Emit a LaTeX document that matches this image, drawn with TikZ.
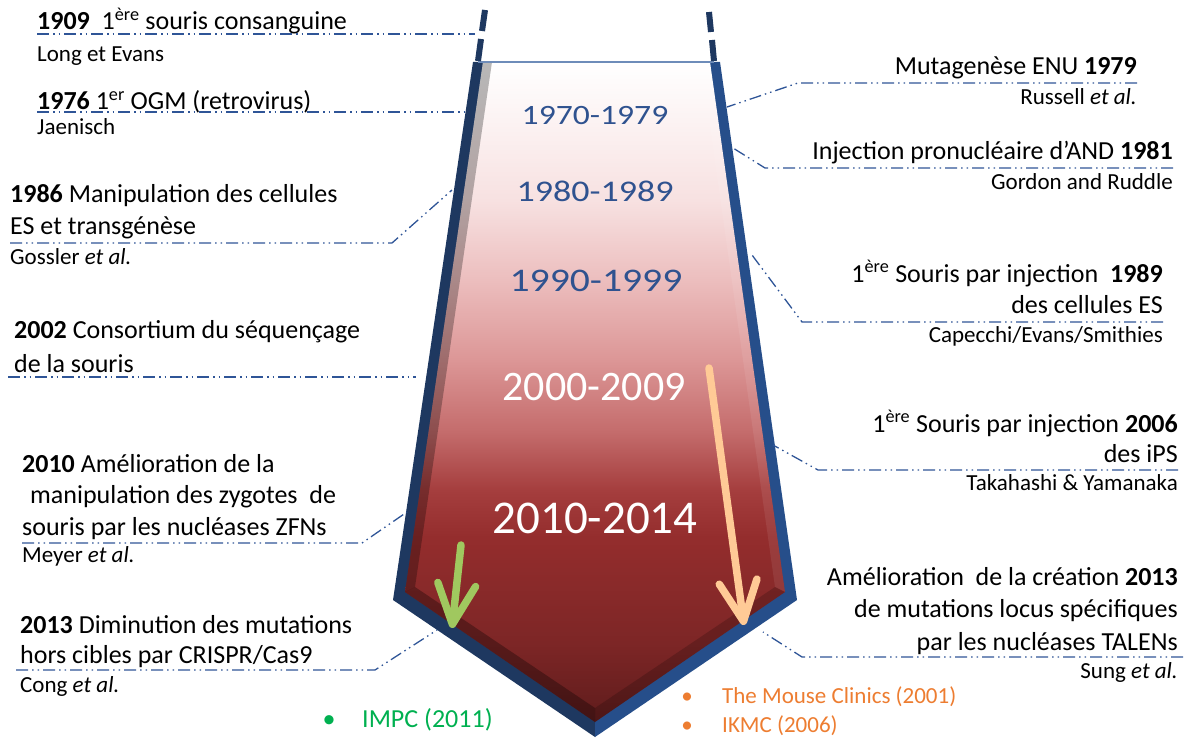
\documentclass[tikz,border=0pt]{standalone}
\usepackage{fontspec}
\setmainfont{Carlito}
\usetikzlibrary{arrows.meta,positioning,calc}

\definecolor{navyband}{RGB}{30,56,96}
\definecolor{blueband}{RGB}{38,78,138}
\definecolor{rimblue}{RGB}{110,140,185}
\definecolor{leadblue}{RGB}{47,85,151}
\definecolor{decblue}{RGB}{47,82,143}
\definecolor{applegreen}{RGB}{160,200,95}
\definecolor{peach}{RGB}{255,202,150}
\definecolor{impcgreen}{RGB}{0,176,80}
\definecolor{clinorange}{RGB}{237,125,49}
% funnel gradient, bottom to top
\definecolor{fa}{RGB}{95,28,28}
\definecolor{fb}{RGB}{125,38,38}
\definecolor{fc}{RGB}{148,45,45}
\definecolor{fd}{RGB}{165,62,62}
\definecolor{fe}{RGB}{196,108,108}
\definecolor{ff}{RGB}{220,150,150}
\definecolor{fg}{RGB}{236,190,190}
\definecolor{fh}{RGB}{247,225,225}
\definecolor{fi}{RGB}{252,243,243}
\definecolor{fj}{RGB}{255,255,255}
\pgfdeclareverticalshading{funnelfill}{100bp}{color(0bp)=(fa); color(25bp)=(fa);
  color(31bp)=(fb); color(39bp)=(fc); color(42.6bp)=(fd); color(47bp)=(fe);
  color(52.4bp)=(ff); color(58.5bp)=(fg); color(64.5bp)=(fh); color(70.6bp)=(fi);
  color(75bp)=(fj); color(100bp)=(fj)}

\tikzset{
  evt/.style={font=\fontsize{26}{31}\selectfont, inner sep=0pt},
  cite/.style={font=\fontsize{23}{27}\selectfont, inner sep=0pt},
  leader/.style={leadblue, line width=1.3pt, dash pattern=on 12pt off 4pt on 1.5pt off 4pt on 1.5pt off 4pt},
  decade/.style={inner sep=0pt, anchor=base},
  pointer/.style={line width=7.5pt, line cap=round, -{Straight Barb[length=40pt,width=38pt,round]}},
}

\begin{document}
\begin{tikzpicture}[x=1pt,y=-1pt]
\useasboundingbox (0,0) rectangle (1186,738);

%walls
\fill[navyband] (473,62) -- (393,600) -- (595,737) -- (595,62) -- cycle;
\fill[blueband] (720,62) -- (797,600) -- (595,737) -- (595,62) -- cycle;
\shade[shading=funnelfill] (483,62) -- (405,592) -- (595,722) -- (785,592) -- (710,62) -- cycle;

%bevel
\fill[black, opacity=0.28] (483,62) -- (405,592) -- (415,587) -- (492,62) -- cycle;
\fill[black, opacity=0.3] (405,592) -- (595,722) -- (595,708) -- (415,587) -- cycle;
\fill[black, opacity=0.18] (595,722) -- (785,592) -- (775,587) -- (595,708) -- cycle;
\fill[white, opacity=0.08] (710,62) -- (785,592) -- (775,587) -- (701,62) -- cycle;

%rim
\draw[rimblue, line width=2pt] (478,62) -- (714,62);
\draw[navyband, line width=6pt] (485,10) -- (482,31) (481,39) -- (478,61);
\draw[navyband, line width=6pt] (709,12) -- (711,32) (712,40) -- (714,61);

%decades
\node[decade, text=decblue, font=\fontsize{28}{30}\selectfont, xscale=1.2] (d70) at (595,125) {1970-1979};
\node[decade, text=decblue, font=\fontsize{30}{32}\selectfont, xscale=1.2] (d80) at (595,202) {1980-1989};
\node[decade, text=decblue, font=\fontsize{33}{35}\selectfont, xscale=1.2] (d90) at (596,291) {1990-1999};
\node[decade, text=white, font=\fontsize{42}{44}\selectfont] (d00) at (594,400) {2000-2009};
\node[decade, text=white, font=\fontsize{47}{49}\selectfont] (d10) at (595,533) {2010-2014};

%arrows
\coordinate (gtop) at (461,545);
\coordinate (gtip) at (452,628);
\draw[pointer, applegreen] (gtop) -- (gtip);
\coordinate (ptop) at (709,368);
\coordinate (ptip) at (744,625);
\draw[pointer, peach] (ptop) -- (ptip);

%1909
\node[evt, anchor=base west] (l1a) at (37,30) {\textbf{1909}\ \ 1\textsuperscript{ère} souris consanguine};
\node[cite, anchor=base west] (l1c) at (37,62) {Long et Evans};
\coordinate (k1) at (475,34);
\draw[leader] (l1a.west |- k1) -- (k1);

%1976
\node[evt, anchor=base west] (l2a) at (37,110) {\textbf{1976} 1\textsuperscript{er} OGM (retrovirus)};
\node[cite, anchor=base west] (l2c) at (37,135) {Jaenisch};
\coordinate (k2) at (465,112);
\draw[leader] (l2a.west |- k2) -- (k2);

%1986
\node[evt, anchor=base west] (l3a) at (10,203) {\textbf{1986} Manipulation des cellules};
\node[evt, anchor=base west] (l3b) at (10,235) {ES et transgénèse};
\node[cite, anchor=base west] (l3c) at (10,265) {Gossler \textit{et al.}};
\coordinate (b3) at (392,243);
\coordinate (k3) at (452,190);
\draw[leader] (l3b.west |- b3) -- (b3) -- (k3);

%2002
\node[evt, anchor=base west] (l4a) at (14,338) {\textbf{2002} Consortium du séquençage};
\node[evt, anchor=base west] (l4b) at (14,372) {de la souris};
\coordinate (k4) at (416,377);
\draw[leader] ([xshift=-6pt]l4b.west |- k4) -- (k4);

%2010
\node[evt, anchor=base west] (l5a) at (22,472) {\textbf{2010} Amélioration de la};
\node[evt, anchor=base west] (l5b) at (30,503) {manipulation des zygotes\ \ de};
\node[evt, anchor=base west] (l5c) at (22,535) {souris par les nucléases ZFNs};
\node[cite, anchor=base west] (l5d) at (22,562) {Meyer \textit{et al.}};
\coordinate (b5) at (362,543);
\coordinate (k5) at (407,512);
\draw[leader] (l5c.west |- b5) -- (b5) -- (k5);

%2013 CRISPR
\node[evt, anchor=base west] (l6a) at (20,633) {\textbf{2013} Diminution des mutations};
\node[evt, anchor=base west] (l6b) at (20,663) {hors cibles par CRISPR/Cas9};
\node[cite, anchor=base west] (l6c) at (20,692) {Cong \textit{et al.}};
\coordinate (b6) at (375,670);
\coordinate (k6) at (437,630);
\draw[leader] ([xshift=-4pt]l6b.west |- b6) -- (b6) -- (k6);

%1979
\node[evt, anchor=base east] (r1a) at (1137,75) {Mutagenèse ENU \textbf{1979}};
\node[cite, anchor=base east] (r1c) at (1137,105) {Russell \textit{et al.}};
\coordinate (b7) at (798,83);
\coordinate (k7) at (727,107);
\draw[leader] (r1a.east |- b7) -- (b7) -- (k7);

%1981
\node[evt, anchor=base east] (r2a) at (1173,160) {Injection pronucléaire d’AND \textbf{1981}};
\node[cite, anchor=base east] (r2c) at (1173,190) {Gordon and Ruddle};
\coordinate (b8) at (765,168);
\coordinate (k8) at (733,148);
\draw[leader] (r2a.east |- b8) -- (b8) -- (k8);

%1989
\node[evt, anchor=base east] (r3a) at (1163,282) {1\textsuperscript{ère} Souris par injection\ \ \textbf{1989}};
\node[evt, anchor=base east] (r3b) at (1163,313) {des cellules ES};
\node[cite, anchor=base east] (r3c) at (1163,342) {Capecchi/Evans/Smithies};
\coordinate (b9) at (802,322);
\coordinate (k9) at (752,255);
\draw[leader] (r3b.east |- b9) -- (b9) -- (k9);

%2006
\node[evt, anchor=base east] (r4a) at (1178,432) {1\textsuperscript{ère} Souris par injection \textbf{2006}};
\node[evt, anchor=base east] (r4b) at (1178,462) {des iPS};
\node[cite, anchor=base east] (r4c) at (1178,490) {Takahashi \& Yamanaka};
\coordinate (b10) at (818,470);
\coordinate (k10) at (773,445);
\draw[leader] (r4b.east |- b10) -- (b10) -- (k10);

%2013 TALEN
\node[evt, anchor=base east] (r5a) at (1178,585) {Amélioration\ \ de la création \textbf{2013}};
\node[evt, anchor=base east] (r5b) at (1178,617) {de mutations locus spécifiques};
\node[evt, anchor=base east] (r5c) at (1178,650) {par les nucléases TALENs};
\node[cite, anchor=base east] (r5d) at (1178,678) {Sung \textit{et al.}};
\coordinate (b11) at (802,657);
\coordinate (k11) at (763,632);
\draw[leader] ([xshift=5pt]r5c.east |- b11) -- (b11) -- (k11);

%consortia
\node[evt, anchor=base, text=impcgreen] (gdot) at (329,727) {\textbullet};
\node[evt, anchor=base west, text=impcgreen] (impc) at (362,727) {IMPC (2011)};
\node[cite, anchor=base, text=clinorange] (odot1) at (687,703) {\textbullet};
\node[cite, anchor=base west, text=clinorange] (tmc) at (722,703) {The Mouse Clinics (2001)};
\node[cite, anchor=base, text=clinorange] (odot2) at (687,732) {\textbullet};
\node[cite, anchor=base west, text=clinorange] (ikmc) at (722,732) {IKMC (2006)};
\end{tikzpicture}
\end{document}
